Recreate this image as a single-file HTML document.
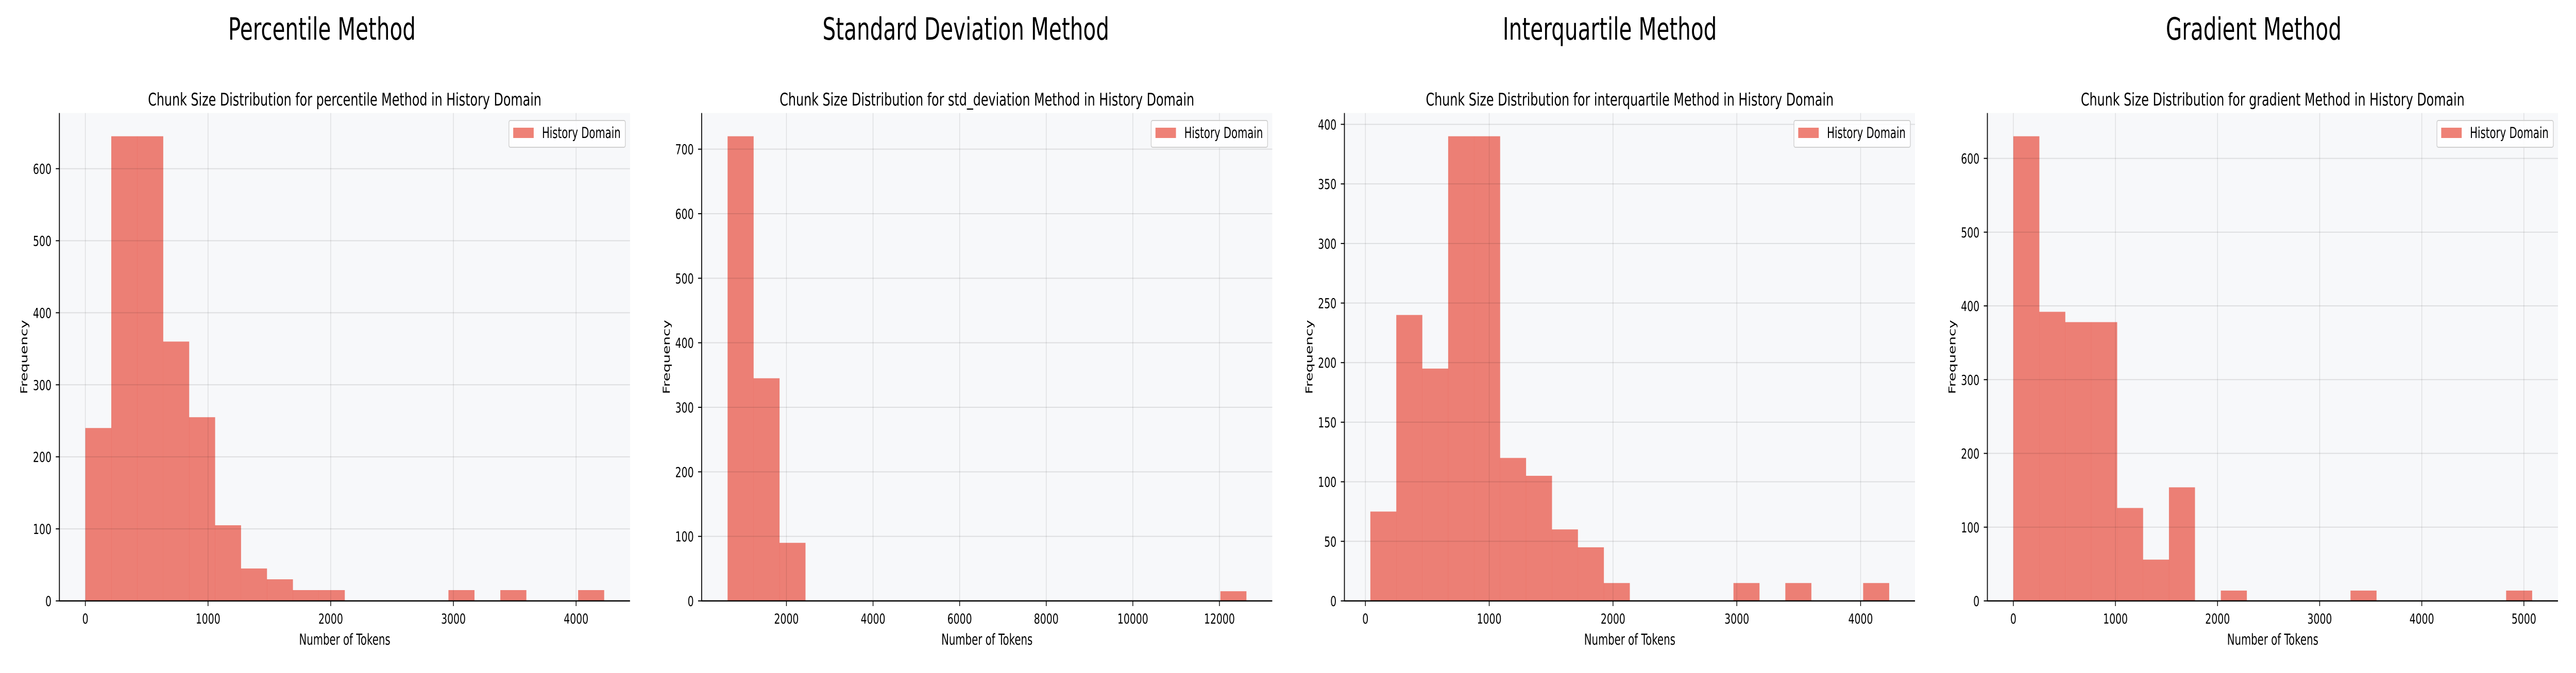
<!DOCTYPE html>
<html><head><meta charset="utf-8">
<style>
html,body{margin:0;padding:0;background:#fff;width:100vw;height:100vh;overflow:hidden;}
svg{display:block;width:100vw;height:100vh;font-family:"DejaVu Sans","Liberation Sans",sans-serif;}
</style></head>
<body>
<svg id="fig" viewBox="0 0 7169 1307" preserveAspectRatio="none" xmlns="http://www.w3.org/2000/svg"></svg>
<script>
// ---- data ----
const panelTitles = ["Percentile Method","Standard Deviation Method","Interquartile Method","Gradient Method"];
const methodNames = ["percentile","std_deviation","interquartile","gradient"];
const binStarts = [0, 641, 40, 0];
const binWidths = [211.4, 599, 209.5, 254];
const countsPercentile = [240,645,645,360,255,105,45,30,15,15,0,0,0,0,15,0,15,0,0,15];
const countsStd = [720,345,90,0,0,0,0,0,0,0,0,0,0,0,0,0,0,0,0,15];
const countsIqr = [75,240,195,390,390,120,105,60,45,15,0,0,0,0,15,0,15,0,0,15];
const countsGradient = [630,392,378,378,126,56,154,0,14,0,0,0,0,14,0,0,0,0,0,14];
const xTicks1 = [0,1000,2000,3000,4000];
const xTicks2 = [2000,4000,6000,8000,10000,12000];
const xTicks3 = [0,1000,2000,3000,4000];
const xTicks4 = [0,1000,2000,3000,4000,5000];
const yTicks1 = [0,100,200,300,400,500,600];
const yTicks2 = [0,100,200,300,400,500,600,700];
const yTicks3 = [0,50,100,150,200,250,300,350,400];
const yTicks4 = [0,100,200,300,400,500,600];

const allCounts = [countsPercentile,countsStd,countsIqr,countsGradient];
const allXT = [xTicks1,xTicks2,xTicks3,xTicks4];
const allYT = [yTicks1,yTicks2,yTicks3,yTicks4];
const supW = [522,798,596,489];
const subW = [1095,1154,1135,1068];

const NS="http://www.w3.org/2000/svg";
const svg=document.getElementById('fig');
function mk(tag,attrs,parent){const e=document.createElementNS(NS,tag);for(const k in attrs)e.setAttribute(k,attrs[k]);(parent||svg).appendChild(e);return e;}

const axLefts=[165.3,1952.7,3741.5,5530.9];
const axW=1588, axTop=219.5, axBot=1167;

for(let p=0;p<4;p++){
  const g=mk('g',{});
  
  
  const L=axLefts[p], R=L+axW;
  const counts=allCounts[p];
  const n=counts.length;
  const x0=binStarts[p], bw=binWidths[p], x1=x0+n*bw;
  const span=x1-x0;
  const xmin=x0-0.05*span, xmax=x1+0.05*span;
  const ymax=1.05*Math.max(...counts);
  const sx=v=>L+(v-xmin)/(xmax-xmin)*(R-L);
  const sy=v=>axBot-v/ymax*(axBot-axTop);

  const st=mk('text',{x:896+p*1792,y:77,'text-anchor':'middle','font-size':60,fill:'#000',textLength:supW[p],lengthAdjust:'spacingAndGlyphs'},g);
  st.textContent=panelTitles[p];
  
  
  const sub=mk('text',{x:(L+R)/2,y:205,'text-anchor':'middle','font-size':34,fill:'#000',textLength:subW[p],lengthAdjust:'spacingAndGlyphs'},g);
  sub.textContent='Chunk Size Distribution for '+methodNames[p]+' Method in History Domain';
  
  

  const bg=mk('rect',{x:L,y:axTop,width:axW,height:axBot-axTop,fill:'#f7f8fa'},g);
  
  

  for(let i=0;i<n;i++){
    if(counts[i]<=0)continue;
    const a=sx(x0+i*bw), b=sx(x0+(i+1)*bw);
    const r=mk('rect',{x:a,y:sy(counts[i]),width:b-a+0.3,height:axBot-sy(counts[i]),fill:'#e74c3c','fill-opacity':0.7},g);
    
    
  }
  allXT[p].forEach(t=>{
    const gl=mk('line',{x1:sx(t),x2:sx(t),y1:axTop,y2:axBot,stroke:'#000','stroke-opacity':0.1,'stroke-width':2},g);
    
    
  });
  allYT[p].forEach(t=>{
    const gl=mk('line',{x1:L,x2:R,y1:sy(t),y2:sy(t),stroke:'#000','stroke-opacity':0.1,'stroke-width':2},g);
    
    
  });
  const sl=mk('line',{x1:L,x2:L,y1:axTop,y2:axBot+1,stroke:'#000','stroke-width':2.5},g);
  
  
  const sb=mk('line',{x1:L-1,x2:R,y1:axBot,y2:axBot,stroke:'#000','stroke-width':2.5},g);
  
  
  allXT[p].forEach(t=>{
    const tk=mk('line',{x1:sx(t),x2:sx(t),y1:axBot,y2:axBot+10,stroke:'#000','stroke-width':2},g);
    
    
    const tl=mk('text',{x:sx(t),y:1211,'text-anchor':'middle','font-size':27,fill:'#000'},g);
    tl.textContent=String(t);
    
    
  });
  allYT[p].forEach(t=>{
    const tk=mk('line',{x1:L-10,x2:L,y1:sy(t),y2:sy(t),stroke:'#000','stroke-width':2},g);
    
    
    const tl=mk('text',{x:L-22,y:sy(t)+10,'text-anchor':'end','font-size':27,fill:'#000'},g);
    tl.textContent=String(t);
    
    
  });
  const xl=mk('text',{x:(L+R)/2,y:1252,'text-anchor':'middle','font-size':29,fill:'#000',textLength:254,lengthAdjust:'spacingAndGlyphs'},g);
  xl.textContent='Number of Tokens';
  
  
  const yx=L-89, yy=(axTop+axBot)/2;
  const yl=mk('text',{x:yx,y:yy,'text-anchor':'middle','font-size':27,fill:'#000',transform:`rotate(-90 ${yx} ${yy})`,textLength:144,lengthAdjust:'spacingAndGlyphs'},g);
  yl.textContent='Frequency';
  
  
  const lg=mk('g',{},g);
  
  
  const lx=R-13-324;
  mk('rect',{x:lx,y:234,width:324,height:52,rx:4,fill:'#fff','fill-opacity':0.85,stroke:'#d0d0d0','stroke-width':2},lg);
  const sw=mk('rect',{x:lx+12,y:248,width:57,height:20,fill:'#e74c3c','fill-opacity':0.7},lg);
  
  
  const lt=mk('text',{x:lx+92,y:268,'font-size':29,fill:'#000',textLength:219,lengthAdjust:'spacingAndGlyphs'},lg);
  lt.textContent='History Domain';
  
  
}
</script>
</body></html>
